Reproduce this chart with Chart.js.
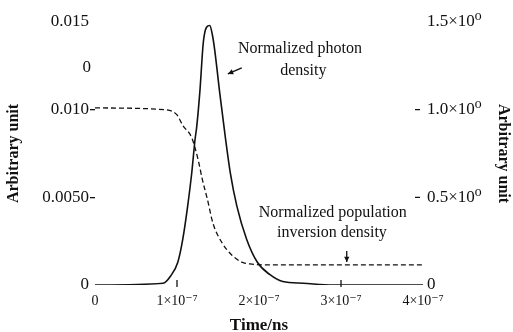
<!DOCTYPE html>
<html>
<head>
<meta charset="utf-8">
<script src="https://cdn.jsdelivr.net/npm/chart.js@4.4.1/dist/chart.umd.min.js"></script>
<style>
    html, body { margin: 0; padding: 0; background: #ffffff; }
</style>
</head>
<body>
<canvas id="graph" width="513" height="332"></canvas>
<script>
// time axis is stored in units of 1e-7
const photon_time = [0, 0.83, 0.92, 1.01, 1.07, 1.13, 1.18, 1.22, 1.24, 1.28, 1.32, 1.36, 1.40, 1.43, 1.46, 1.52, 1.59, 1.65, 1.73, 1.85, 1.98, 2.13, 2.29, 2.54, 2.9, 4.0];
const photon_density = [0, 0.01, 0.05, 0.13, 0.26, 0.45, 0.64, 0.83, 0.90, 1.11, 1.38, 1.47, 1.48, 1.43, 1.34, 1.10, 0.84, 0.64, 0.45, 0.26, 0.13, 0.06, 0.02, 0.01, 0, 0];

const inversion_time = [0, 0.85, 1.0, 1.07, 1.18, 1.26, 1.31, 1.37, 1.44, 1.55, 1.67, 1.79, 1.89, 2.07, 4.0];
const inversion_density = [0.0101, 0.0100, 0.0097, 0.0091, 0.0084, 0.0071, 0.0060, 0.0049, 0.0035, 0.0024, 0.0017, 0.0013, 0.0012, 0.00115, 0.00115];

const x_tick_values = [0, 1, 2, 3, 4];
const x_tick_labels = ['0', '1×10⁻⁷', '2×10⁻⁷', '3×10⁻⁷', '4×10⁻⁷'];
const left_tick_values = [0, 0.005, 0.010, 0.015];
const left_tick_labels = ['0', '0.0050', '0.010', '0.015'];
const right_tick_values = [0, 0.5, 1.0, 1.5];
const right_tick_labels = ['0', '0.5×10⁰', '1.0×10⁰', '1.5×10⁰'];

const font_family = '"Liberation Serif", "DejaVu Serif", serif';

function to_points(xs, ys) {
    let points = [];
    for (let i = 0; i < xs.length; ++i) {
        points.push({ x: xs[i], y: ys[i] });
    }
    return points;
}

function fixed_ticks(values) {
    return function (scale) {
        scale.ticks = values.map(v => ({ value: v }));
    };
}

function draw_arrow(ctx, x1, y1, x2, y2) {
    const angle = Math.atan2(y2 - y1, x2 - x1);
    ctx.beginPath();
    ctx.moveTo(x1, y1);
    ctx.lineTo(x2, y2);
    ctx.stroke();
    ctx.beginPath();
    ctx.moveTo(x2, y2);
    ctx.lineTo(x2 - 6 * Math.cos(angle - 0.45), y2 - 6 * Math.sin(angle - 0.45));
    ctx.lineTo(x2 - 6 * Math.cos(angle + 0.45), y2 - 6 * Math.sin(angle + 0.45));
    ctx.closePath();
    ctx.fill();
}

const annotation_plugin = {
    id: 'annotations',
    afterDraw(chart) {
        const ctx = chart.ctx;
        const xs = chart.scales.x;
        const ys = chart.scales.y;
        const area = chart.chartArea;
        ctx.save();
        ctx.fillStyle = '#111111';
        ctx.strokeStyle = '#111111';
        ctx.lineWidth = 1.3;
        ctx.textAlign = 'center';
        ctx.textBaseline = 'middle';
        ctx.font = '16px ' + font_family;
        ctx.fillText('Normalized photon', xs.getPixelForValue(2.5), ys.getPixelForValue(0.01346));
        ctx.fillText('density', xs.getPixelForValue(2.54), ys.getPixelForValue(0.0122));
        ctx.fillText('Normalized population', xs.getPixelForValue(2.9), ys.getPixelForValue(0.00411));
        ctx.fillText('inversion density', xs.getPixelForValue(2.89), ys.getPixelForValue(0.00297));
        // stray label left of the axis
        ctx.font = '17px ' + font_family;
        ctx.fillText('0', xs.getPixelForValue(-0.1), ys.getPixelForValue(0.0124));

        draw_arrow(ctx, xs.getPixelForValue(1.79), ys.getPixelForValue(0.01238),
            xs.getPixelForValue(1.62), ys.getPixelForValue(0.01204));
        draw_arrow(ctx, xs.getPixelForValue(3.07), ys.getPixelForValue(0.00194),
            xs.getPixelForValue(3.07), ys.getPixelForValue(0.00131));

        // inward tick marks on the right and bottom
        const y1 = chart.scales.y1;
        ctx.beginPath();
        [0.5, 1.0].forEach(v => {
            const py = y1.getPixelForValue(v);
            ctx.moveTo(area.right - 8, py);
            ctx.lineTo(area.right - 3, py);
        });
        [1, 3].forEach(v => {
            const px = xs.getPixelForValue(v);
            ctx.moveTo(px, area.bottom - 5);
            ctx.lineTo(px, area.bottom + 2);
        });
        ctx.stroke();
        ctx.restore();
    }
};

set_defaults();

function set_defaults() {
    Chart.defaults.color = '#111111';
    Chart.defaults.font.family = font_family;
}

const data = {
    datasets: [
        {
            label: 'Normalized photon density',
            data: to_points(photon_time, photon_density),
            yAxisID: 'y1',
            borderColor: '#111111',
            borderWidth: 1.6,
            pointRadius: 0,
            cubicInterpolationMode: 'monotone',
            fill: false
        },
        {
            label: 'Normalized population inversion density',
            data: to_points(inversion_time, inversion_density),
            yAxisID: 'y',
            borderColor: '#111111',
            borderWidth: 1.3,
            borderDash: [5, 3],
            pointRadius: 0,
            cubicInterpolationMode: 'monotone',
            fill: false
        }
    ]
};

const config = {
    type: 'line',
    data,
    plugins: [annotation_plugin],
    options: {
        responsive: false,
        animation: false,
        layout: { padding: { top: 22, left: 0, right: 0, bottom: 0 } },
        plugins: { legend: { display: false }, tooltip: { enabled: false } },
        scales: {
            x: {
                type: 'linear',
                min: 0,
                max: 4,
                afterBuildTicks: fixed_ticks(x_tick_values),
                afterFit: scale => { scale.height = 47; },
                border: { display: false },
                grid: { display: false },
                ticks: {
                    padding: 0,
                    maxRotation: 0,
                    font: { size: 14 },
                    callback: (value) => x_tick_labels[x_tick_values.indexOf(value)]
                },
                title: {
                    display: true,
                    text: 'Time/ns',
                    font: { size: 17, weight: 'bold', lineHeight: 1 },
                    padding: { top: 0, bottom: -2 }
                }
            },
            y: {
                position: 'left',
                min: 0,
                max: 0.015,
                afterBuildTicks: fixed_ticks(left_tick_values),
                afterFit: scale => { scale.width = 95; },
                border: { display: false },
                grid: {
                    drawOnChartArea: false,
                    drawTicks: true,
                    tickLength: 5,
                    lineWidth: 1.3,
                    color: ctx => (ctx.tick && (ctx.tick.value === 0.005 || ctx.tick.value === 0.010)) ? '#111111' : 'rgba(0,0,0,0)'
                },
                ticks: {
                    padding: 1,
                    font: { size: 17 },
                    callback: (value) => left_tick_labels[left_tick_values.indexOf(value)]
                },
                title: {
                    display: true,
                    text: 'Arbitrary unit',
                    font: { size: 16, weight: 'bold' },
                    padding: { top: 4, bottom: 0 }
                }
            },
            y1: {
                position: 'right',
                min: 0,
                max: 1.5,
                afterBuildTicks: fixed_ticks(right_tick_values),
                afterFit: scale => { scale.width = 90; },
                border: { display: false },
                grid: { display: false, drawTicks: false },
                ticks: {
                    padding: 4,
                    font: { size: 17 },
                    callback: (value) => right_tick_labels[right_tick_values.indexOf(value)]
                },
                title: {
                    display: true,
                    text: 'Arbitrary unit',
                    font: { size: 16, weight: 'bold' },
                    padding: { top: 0, bottom: 0 }
                }
            }
        }
    }
};

let chart = new Chart(document.getElementById('graph'), config);
</script>
</body>
</html>
